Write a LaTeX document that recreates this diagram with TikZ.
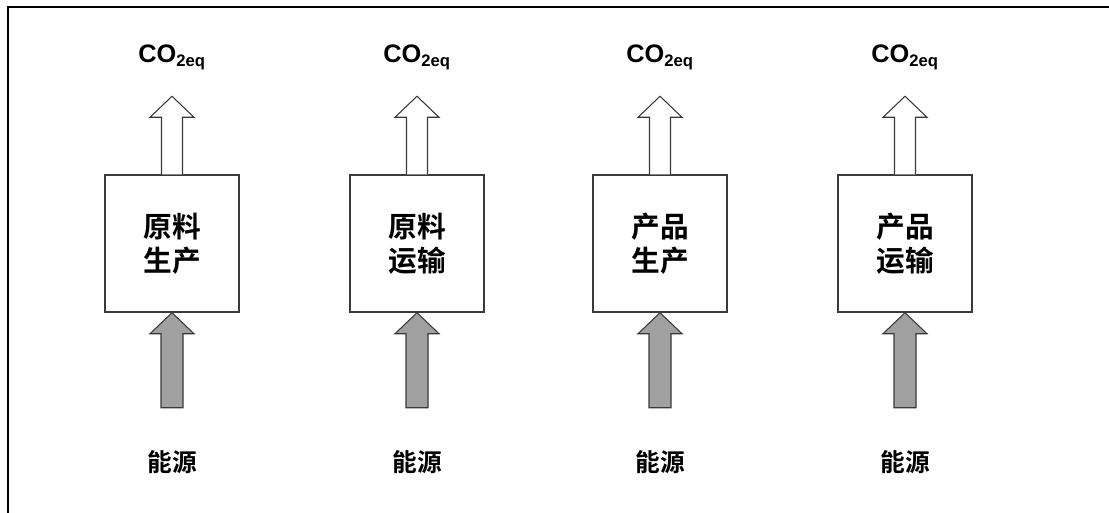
\documentclass[tikz,border=0pt]{standalone}
\usepackage{fontspec}
\setmainfont{Liberation Sans}
\newfontfamily\cjk{Noto Sans CJK SC}[BoldFont={* Bold}]
\usetikzlibrary{calc}
\definecolor{edgegray}{HTML}{3A3A3A}
\definecolor{arrowgray}{HTML}{A0A0A0}
\tikzset{
  stagebox/.style={draw=edgegray, line width=1.1pt, fill=white, minimum width=100.5pt, minimum height=102.75pt, inner sep=0pt, align=center, font=\cjk\bfseries\fontsize{21.5}{25.5}\selectfont},
  emitlabel/.style={anchor=base, inner sep=0pt, font=\bfseries\fontsize{19}{22}\selectfont},
  energylabel/.style={inner sep=0pt, font=\cjk\bfseries\fontsize{18.5}{22}\selectfont},
  hollowarrow/.style={draw=edgegray, line width=0.8pt, fill=white, line join=miter},
  grayarrow/.style={draw=edgegray, line width=0.8pt, fill=arrowgray, line join=miter},
  framebar/.style={draw=black, line width=1.6pt}
}
\begin{document}
\begin{tikzpicture}[x=0.75pt,y=-0.75pt]
\useasboundingbox (0,0) rectangle (1109,513);
\draw[framebar] (8,513) -- (8,7) -- (1109,7);
\foreach \cx/\i/\ta/\tb in {172/1/原料/生产, 417/2/原料/运输, 660/3/产品/生产, 905/4/产品/运输}{
  \node[stagebox] (b\i) at (\cx,243.5) {\ta\\\tb};
  \node[emitlabel] (c\i) at (\cx,63) {CO\textsubscript{\fontsize{12.5}{14}\selectfont 2eq}};
  \node[energylabel] (e\i) at (\cx,462) {能源};
  % hollow emission arrow from box top
  \draw[hollowarrow] ($(b\i.north)+(-10.5,0)$) -- ++(0,-57) -- ++(-11.5,0) -- ($(b\i.north)+(0,-78)$) -- ($(b\i.north)+(22,-57)$) -- ++(-11.5,0) -- ($(b\i.north)+(10.5,0)$);
  % gray energy arrow into box bottom
  \draw[grayarrow] ($(b\i.south)+(-11,95)$) -- ++(0,-74) -- ++(-11,0) -- (b\i.south) -- ($(b\i.south)+(22,21)$) -- ++(-11,0) -- ++(0,74) -- cycle;
}
\end{tikzpicture}
\end{document}
